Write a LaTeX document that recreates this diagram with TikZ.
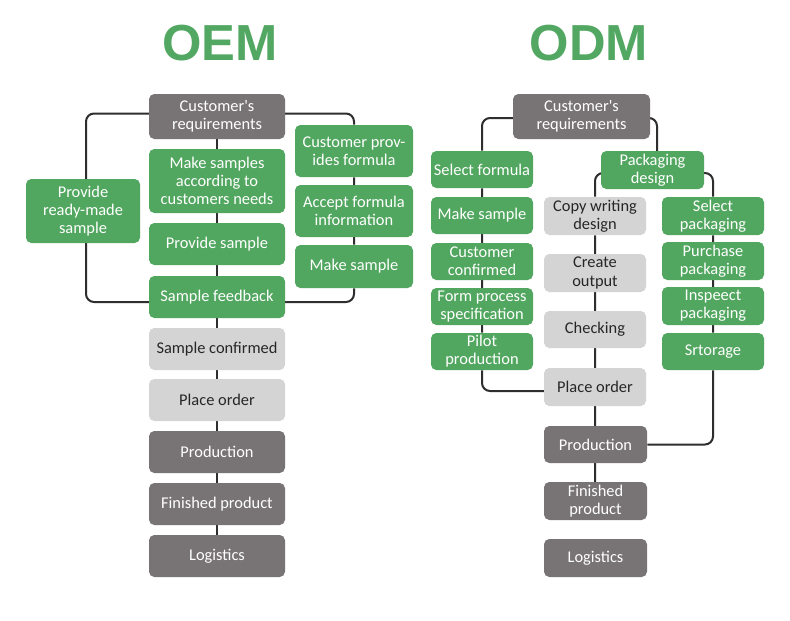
\documentclass[tikz,border=0pt]{standalone}
\usepackage{fontspec}
\setmainfont{Carlito}
\newfontfamily\titlefont{Liberation Sans}
\usetikzlibrary{backgrounds,calc}
\definecolor{gboxc}{HTML}{52A760}
\definecolor{dboxc}{HTML}{787475}
\definecolor{lboxc}{HTML}{D5D4D5}
\definecolor{titlec}{HTML}{52A862}
\definecolor{linec}{HTML}{2E2E2E}
\begin{document}
\begin{tikzpicture}[x=0.75pt,y=-0.75pt,
  basebox/.style={rounded corners=4pt, inner sep=0pt, align=center,
    font=\fontsize{12.3}{13.6}\selectfont},
  gbox/.style={basebox, fill=gboxc, text=white},
  dbox/.style={basebox, fill=dboxc, text=white},
  lbox/.style={basebox, fill=lboxc, text=black!85},
  wh/.style 2 args={minimum width=#1*0.75pt, minimum height=#2*0.75pt},
  conn/.style={draw=linec, line width=1.5pt, rounded corners=6pt},
  ttl/.style={text=titlec, font=\titlefont\bfseries\fontsize{38}{40}\selectfont}]
\useasboundingbox (0,0) rectangle (790,621);

% titles
\node[ttl] (toem) at (220,43) {OEM};
\node[ttl] (todm) at (589,43) {ODM};

% OEM
\node[dbox, wh={136}{45}] (req1) at (217,116.5) {Customer\textquotesingle s\\requirements};
\node[gbox, wh={136}{64}] (mk1) at (217,181) {Make samples\\according to\\customers needs};
\node[gbox, wh={136}{42}] (ps1) at (217,244) {Provide sample};
\node[gbox, wh={136}{42}] (sf1) at (217,297) {Sample feedback};
\node[gbox, wh={114}{64}] (rm1) at (83,211) {Provide\\ready-made\\sample};
\node[gbox, wh={118}{52}] (cp1) at (354,151) {Customer prov-\\ides formula};
\node[gbox, wh={118}{52}] (af1) at (354,211) {Accept formula\\information};
\node[gbox, wh={118}{43}] (ms1) at (354,266.5) {Make sample};
\node[lbox, wh={136}{42}] (sc1) at (217,349) {Sample confirmed};
\node[lbox, wh={136}{42}] (po1) at (217,400) {Place order};
\node[dbox, wh={136}{42}] (pr1) at (217,452) {Production};
\node[dbox, wh={136}{42}] (fp1) at (217,504) {Finished product};
\node[dbox, wh={136}{42}] (lg1) at (217,556) {Logistics};

% ODM
\node[dbox, wh={137}{45}] (req2) at (581.5,116.5) {Customer\textquotesingle s\\requirements};
\node[gbox, wh={102}{37}] (sf2) at (482,169.5) {Select formula};
\node[gbox, wh={102}{37}] (ms2) at (482,215.5) {Make sample};
\node[gbox, wh={102}{37}] (cc2) at (482,261.5) {Customer\\confirmed};
\node[gbox, wh={102}{37}] (fs2) at (482,306.5) {Form process\\specification};
\node[gbox, wh={102}{37}] (pp2) at (482,351.5) {Pilot\\production};
\node[gbox, wh={103}{38}] (pd2) at (652.5,170) {Packaging\\design};
\node[lbox, wh={102}{38}] (cw2) at (595,216) {Copy writing\\design};
\node[lbox, wh={102}{38}] (co2) at (595,273) {Create\\output};
\node[lbox, wh={102}{37}] (ck2) at (595,329.5) {Checking};
\node[lbox, wh={102}{38}] (po2) at (595,387) {Place order};
\node[gbox, wh={102}{38}] (sp2) at (713,216) {Select\\packaging};
\node[gbox, wh={102}{38}] (pu2) at (713,261) {Purchase\\packaging};
\node[gbox, wh={102}{38}] (ip2) at (713,306) {Inspeect\\packaging};
\node[gbox, wh={102}{37}] (st2) at (713,351.5) {Srtorage};
\node[dbox, wh={103}{37}] (pr2) at (595.5,444.5) {Production};
\node[dbox, wh={103}{38}] (fi2) at (595.5,501) {Finished\\product};
\node[dbox, wh={103}{38}] (lg2) at (595.5,558) {Logistics};

\begin{pgfonlayer}{background}
  \fill[white] (0,0) rectangle (790,621);
  % OEM connectors
  \draw[conn] (req1) -- (lg1);
  \draw[conn] ($(req1)+(0,-3)$) -| ($(rm1)+(3,0)$) |- ($(sf1)+(0,5)$);
  \draw[conn] ($(req1)+(0,-3)$) -| (cp1) -- (ms1) |- ($(sf1)+(0,5)$);
  % ODM connectors
  \draw[conn] ($(req2)+(0,1.5)$) -| (sf2) -- (pp2) |- ($(po2)+(0,4)$);
  \draw[conn] ($(req2)+(0,1.5)$) -| ($(pd2)+(4.5,0)$);
  \draw[conn] ($(pd2)+(0,3)$) -| (cw2) -- (cw2 |- fi2);
  \draw[conn] ($(pd2)+(0,3)$) -| (sp2) -- (st2) |- (pr2);
\end{pgfonlayer}
\end{tikzpicture}
\end{document}
